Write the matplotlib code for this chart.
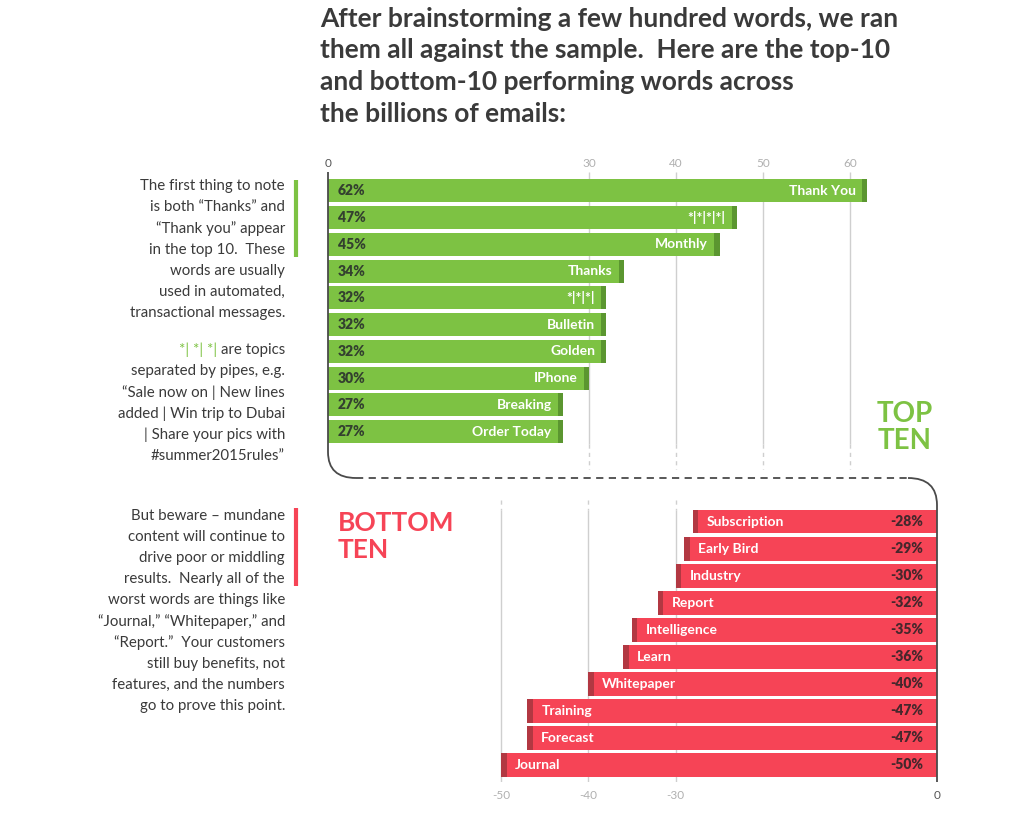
import numpy as np
import matplotlib
matplotlib.use('Agg')
import matplotlib.pyplot as plt
from matplotlib.path import Path
from matplotlib.patches import PathPatch

# ---------- data ----------
top_words = ['Thank You', '*|*|*|*|', 'Monthly', 'Thanks', '*|*|*|',
             'Bulletin', 'Golden', 'IPhone', 'Breaking', 'Order Today']
top_values = [62, 47, 45, 34, 32, 32, 32, 30, 27, 27]

bottom_words = ['Subscription', 'Early Bird', 'Industry', 'Report', 'Intelligence',
                'Learn', 'Whitepaper', 'Training', 'Forecast', 'Journal']
bottom_values = [-28, -29, -30, -32, -35, -36, -40, -47, -47, -50]

top_ticks = [0, 30, 40, 50, 60]
bottom_ticks = [-50, -40, -30, 0]
top_grid = [30, 40, 50, 60]
bottom_grid = [-50, -40, -30]

title_lines = ['After brainstorming a few hundred words, we ran',
               'them all against the sample.  Here are the top-10',
               'and bottom-10 performing words across',
               'the billions of emails:']

note_top_1 = ['The first thing to note',
              'is both \u201cThanks\u201d and',
              '\u201cThank you\u201d appear',
              'in the top 10.  These',
              'words are usually',
              'used in automated,',
              'transactional messages.']
note_top_2 = ['are topics',
              'separated by pipes, e.g.',
              '\u201cSale now on | New lines',
              'added | Win trip to Dubai',
              '| Share your pics with',
              '#summer2015rules\u201d']
note_bottom = ['But beware \u2013 mundane',
               'content will continue to',
               'drive poor or middling',
               'results.  Nearly all of the',
               'worst words are things like',
               '\u201cJournal,\u201d \u201cWhitepaper,\u201d and',
               '\u201cReport.\u201d  Your customers',
               'still buy benefits, not',
               'features, and the numbers',
               'go to prove this point.']

GREEN = '#7dc243'
GREEN_DARK = '#5b9630'
RED = '#f64456'
RED_DARK = '#b23842'
TEXT = '#3a3a3a'
GRID = '#cfcfcf'

plt.rcParams.update({'font.family': ['Lato', 'DejaVu Sans']})

W, H = 1024, 816
fig = plt.figure(figsize=(W / 100, H / 100), dpi=100)
fig.patch.set_facecolor('white')


def rect(x0, y0, x1, y1):
    # pixel box -> figure fraction
    return [x0 / W, 1 - y1 / H, (x1 - x0) / W, (y1 - y0) / H]


# ---------- top ten ----------
ax = fig.add_axes(rect(328, 172, 937, 470))
ypos = np.arange(len(top_values))
ax.set_xlim(0, 70)
ax.set_ylim(10.43, -0.71)
cap = 0.6
ax.barh(ypos, top_values, height=0.86, color=GREEN, zorder=2)
ax.barh(ypos, [cap] * len(top_values), left=np.array(top_values) - cap,
        height=0.86, color=GREEN_DARK, zorder=3)
for x in top_grid:
    ax.vlines(x, -0.71, 9.45, color=GRID, lw=1, zorder=1)
    ax.vlines(x, 9.45, 10.43, color=GRID, lw=1, ls=(0, (3, 3)), zorder=1)
for y, v, w in zip(ypos, top_values, top_words):
    ax.text(1.1, y, f'{v}%', ha='left', va='center', fontsize=10,
            fontweight='heavy', color='#33402f', zorder=4)
    ax.text(v - 1.3, y, w, ha='right', va='center', fontsize=10,
            fontweight='bold', color='white', zorder=4)
ax.xaxis.tick_top()
ax.set_xticks(top_ticks)
ax.set_xticklabels([str(t) for t in top_ticks], fontsize=8.5, color='#b0b0b0')
ax.get_xticklabels()[0].set_color('#555555')
ax.tick_params(axis='x', length=0, pad=2)
ax.set_yticks([])
for s in ax.spines.values():
    s.set_visible(False)
ax.set_facecolor('none')

# ---------- bottom ten ----------
bx = fig.add_axes(rect(327, 500, 937, 782))
ypos = np.arange(len(bottom_values))
bx.set_xlim(-70, 0)
bx.set_ylim(9.63, -0.81)
bx.barh(ypos, bottom_values, height=0.86, color=RED, zorder=2)
bx.barh(ypos, [cap] * len(bottom_values), left=bottom_values,
        height=0.86, color=RED_DARK, zorder=3)
for x in bottom_grid:
    bx.vlines(x, -0.81, -0.45, color=GRID, lw=1, ls=(0, (3, 3)), zorder=1)
    bx.vlines(x, -0.45, 9.63, color=GRID, lw=1, zorder=1)
for y, v, w in zip(ypos, bottom_values, bottom_words):
    bx.text(v + 1.6, y, w, ha='left', va='center', fontsize=10,
            fontweight='bold', color='white', zorder=4)
    bx.text(-1.6, y, f'{v}%', ha='right', va='center', fontsize=10,
            fontweight='heavy', color='#45272c', zorder=4)
bx.set_xticks(bottom_ticks)
bx.set_xticklabels([str(t) for t in bottom_ticks], fontsize=8.5, color='#b0b0b0')
bx.get_xticklabels()[-1].set_color('#555555')
bx.tick_params(axis='x', length=0, pad=6)
bx.set_yticks([])
for s in bx.spines.values():
    s.set_visible(False)
bx.set_facecolor('none')

# ---------- overlay: title, notes, connector ----------
ov = fig.add_axes([0, 0, 1, 1])
ov.set_xlim(0, W)
ov.set_ylim(H, 0)
ov.axis('off')
ov.set_facecolor('none')

for i, line in enumerate(title_lines):
    ov.text(320, 19 + i * 31.5, line, ha='left', va='center', fontsize=19,
            fontweight='bold', color=TEXT)

for i, line in enumerate(note_top_1):
    ov.text(285, 186 + i * 21.2, line, ha='right', va='center', fontsize=10.8, color=TEXT)
first = None
for i, line in enumerate(note_top_2):
    t = ov.text(285, 350 + i * 21.2, line, ha='right', va='center', fontsize=10.8, color=TEXT)
    if first is None:
        first = t
ov.annotate('*| *| *| ', xy=(0, 0.5), xycoords=first, ha='right', va='center',
            fontsize=10.8, color=GREEN)
for i, line in enumerate(note_bottom):
    ov.text(285, 516 + i * 21.1, line, ha='right', va='center', fontsize=10.8, color=TEXT)

ov.plot([296, 296], [180, 257], color=GREEN, lw=3, solid_capstyle='butt')
ov.plot([296, 296], [508, 586], color=RED, lw=3, solid_capstyle='butt')

ov.text(905, 414, 'TOP', ha='center', va='center', fontsize=20, fontweight='bold', color=GREEN)
ov.text(905, 441, 'TEN', ha='center', va='center', fontsize=20, fontweight='bold', color=GREEN)
ov.text(338, 523, 'BOTTOM', ha='left', va='center', fontsize=19, fontweight='bold', color=RED)
ov.text(338, 550, 'TEN', ha='left', va='center', fontsize=19, fontweight='bold', color=RED)

# connector between the two panels
left = Path([(328, 172), (328, 452), (328, 478), (356, 478)],
            [Path.MOVETO, Path.LINETO, Path.CURVE3, Path.CURVE3])
right = Path([(908, 478), (937, 478), (937, 505), (937, 782)],
             [Path.MOVETO, Path.CURVE3, Path.CURVE3, Path.LINETO])
ov.add_patch(PathPatch(left, fc='none', ec='#4a4a4a', lw=1.3))
ov.add_patch(PathPatch(right, fc='none', ec='#4a4a4a', lw=1.3))
ov.plot([356, 908], [478, 478], color='#4a4a4a', lw=1.3, ls=(0, (4, 3)))

plt.savefig('out.png', dpi=100)
